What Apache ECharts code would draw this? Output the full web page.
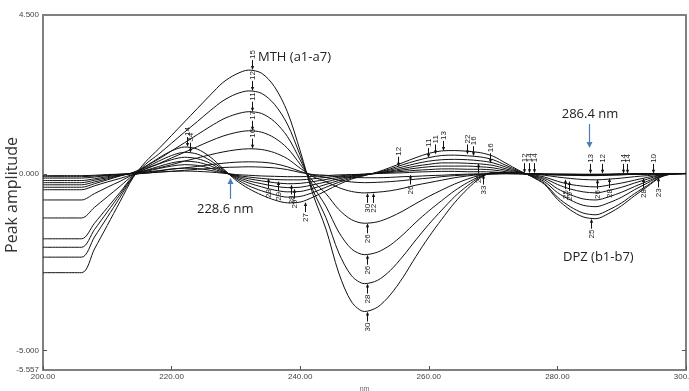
<!DOCTYPE html>
<html><head><meta charset="utf-8">
<script src="https://cdn.jsdelivr.net/npm/echarts@6/dist/echarts.min.js"></script>
<style>html,body{margin:0;padding:0;background:#fff}#c{width:689px;height:391px}</style>
</head><body><div id="c"></div>
<script>
// wavelength grid (nm)
const wavelengths = [200,206,208,210,212,214,216,218,220,222,224,226,228,230,232,234,236,238,240,242,244,246,248,250,252,254,256,258,260,262,264,266,268,270,272,274,276,278,280,282,284,286,288,290,292,294,296,298,300];

// MTH ratio-derivative curves (a1-a7)
const mthA1 = [-0.45,-0.45,-0.34,-0.23,-0.13,-0.02,0.02,0.05,0.07,0.10,0.13,0.15,0.18,0.19,0.20,0.19,0.17,0.12,0.04,-0.02,-0.04,-0.08,-0.10,-0.11,-0.11,-0.10,-0.08,-0.07,-0.05,-0.04,-0.02,-0.01,0.00,0.00,0.00,0.00,0.00,-0.01,-0.01,-0.01,-0.01,-0.01,-0.01,0.00,0.00,0.00,0.00,0.00,0.00];
const mthA2 = [-0.74,-0.74,-0.56,-0.38,-0.21,-0.03,0.04,0.08,0.13,0.17,0.21,0.26,0.30,0.33,0.34,0.33,0.29,0.20,0.07,-0.04,-0.10,-0.18,-0.23,-0.25,-0.24,-0.22,-0.19,-0.15,-0.12,-0.08,-0.05,-0.03,-0.01,0.00,0.01,0.00,0.00,-0.01,-0.01,-0.01,-0.02,-0.02,-0.01,-0.01,0.00,0.00,0.00,0.00,0.00];
const mthA3 = [-1.25,-1.25,-0.95,-0.65,-0.35,-0.05,0.09,0.17,0.26,0.36,0.45,0.54,0.62,0.68,0.71,0.69,0.60,0.43,0.16,-0.08,-0.22,-0.39,-0.50,-0.54,-0.52,-0.48,-0.41,-0.32,-0.25,-0.18,-0.11,-0.06,-0.02,0.00,0.01,0.01,0.00,-0.01,-0.01,-0.02,-0.02,-0.02,-0.02,-0.01,-0.01,0.00,0.00,0.00,0.01];
const mthA4 = [-1.84,-1.84,-1.40,-0.96,-0.52,-0.07,0.15,0.29,0.45,0.61,0.77,0.93,1.07,1.17,1.22,1.18,1.02,0.73,0.27,-0.21,-0.56,-1.01,-1.30,-1.40,-1.36,-1.23,-1.05,-0.84,-0.64,-0.46,-0.29,-0.15,-0.04,0.01,0.02,0.01,0.00,-0.01,-0.02,-0.02,-0.03,-0.03,-0.02,-0.01,-0.01,0.00,0.00,0.01,0.01];
const mthA5 = [-2.08,-2.08,-1.58,-1.08,-0.58,-0.08,0.21,0.42,0.65,0.88,1.11,1.34,1.55,1.69,1.76,1.71,1.48,1.06,0.39,-0.34,-0.92,-1.65,-2.13,-2.29,-2.22,-2.02,-1.72,-1.37,-1.05,-0.76,-0.48,-0.25,-0.07,0.02,0.02,0.01,0.00,-0.01,-0.02,-0.03,-0.03,-0.03,-0.02,-0.02,-0.01,0.00,0.00,0.01,0.01];
const mthA6 = [-2.36,-2.36,-1.79,-1.23,-0.66,-0.09,0.28,0.56,0.87,1.18,1.48,1.79,2.07,2.26,2.35,2.28,1.97,1.41,0.52,-0.47,-1.24,-2.24,-2.89,-3.11,-3.02,-2.74,-2.33,-1.87,-1.43,-1.03,-0.65,-0.34,-0.09,0.03,0.03,0.02,0.00,-0.02,-0.03,-0.03,-0.04,-0.04,-0.03,-0.02,-0.01,0.00,0.01,0.01,0.01];
const mthA7 = [-2.80,-2.80,-2.13,-1.46,-0.78,-0.11,0.35,0.71,1.09,1.47,1.85,2.23,2.59,2.82,2.94,2.85,2.47,1.76,0.65,-0.59,-1.56,-2.81,-3.63,-3.90,-3.78,-3.43,-2.93,-2.34,-1.79,-1.29,-0.82,-0.43,-0.12,0.04,0.03,0.02,0.00,-0.02,-0.03,-0.04,-0.05,-0.05,-0.04,-0.03,-0.01,0.00,0.01,0.01,0.01];

// DPZ ratio-derivative curves (b1-b7)
const dpzB1 = [-0.05,-0.05,-0.04,-0.02,-0.01,0.00,0.02,0.05,0.07,0.08,0.07,0.05,0.02,-0.02,-0.04,-0.06,-0.07,-0.08,-0.08,-0.07,-0.05,-0.03,-0.02,-0.01,0.01,0.02,0.03,0.05,0.06,0.07,0.07,0.06,0.06,0.05,0.03,0.01,-0.01,-0.04,-0.09,-0.13,-0.16,-0.17,-0.15,-0.12,-0.08,-0.05,-0.01,0.00,0.01];
const dpzB2 = [-0.08,-0.08,-0.06,-0.04,-0.01,0.01,0.05,0.09,0.14,0.16,0.15,0.10,0.03,-0.04,-0.09,-0.13,-0.16,-0.17,-0.17,-0.14,-0.10,-0.06,-0.03,-0.01,0.01,0.04,0.07,0.10,0.12,0.14,0.14,0.13,0.13,0.11,0.06,0.02,-0.02,-0.09,-0.21,-0.30,-0.35,-0.37,-0.32,-0.26,-0.18,-0.10,-0.03,0.00,0.01];
const dpzB3 = [-0.12,-0.12,-0.09,-0.05,-0.02,0.01,0.07,0.15,0.22,0.26,0.24,0.16,0.05,-0.06,-0.14,-0.20,-0.25,-0.28,-0.27,-0.22,-0.16,-0.10,-0.05,-0.02,0.02,0.06,0.11,0.16,0.20,0.22,0.22,0.22,0.20,0.17,0.10,0.03,-0.04,-0.13,-0.30,-0.43,-0.51,-0.54,-0.47,-0.38,-0.26,-0.15,-0.04,0.00,0.01];
const dpzB4 = [-0.19,-0.19,-0.14,-0.08,-0.03,0.02,0.10,0.21,0.31,0.36,0.33,0.23,0.07,-0.08,-0.20,-0.28,-0.35,-0.39,-0.38,-0.31,-0.23,-0.14,-0.07,-0.02,0.02,0.08,0.15,0.22,0.27,0.31,0.31,0.30,0.28,0.24,0.14,0.05,-0.05,-0.17,-0.42,-0.59,-0.71,-0.74,-0.65,-0.52,-0.36,-0.21,-0.06,0.00,0.01];
const dpzB5 = [-0.25,-0.25,-0.18,-0.11,-0.04,0.02,0.14,0.28,0.40,0.47,0.43,0.30,0.09,-0.11,-0.26,-0.37,-0.46,-0.51,-0.50,-0.41,-0.30,-0.19,-0.09,-0.03,0.03,0.11,0.20,0.29,0.36,0.40,0.41,0.40,0.37,0.31,0.19,0.06,-0.06,-0.22,-0.53,-0.74,-0.89,-0.93,-0.82,-0.66,-0.45,-0.26,-0.07,0.00,0.01];
const dpzB6 = [-0.31,-0.31,-0.23,-0.14,-0.05,0.03,0.18,0.36,0.52,0.61,0.56,0.38,0.12,-0.14,-0.34,-0.48,-0.59,-0.66,-0.64,-0.53,-0.38,-0.24,-0.12,-0.04,0.04,0.14,0.26,0.37,0.46,0.52,0.53,0.51,0.48,0.40,0.24,0.08,-0.07,-0.27,-0.66,-0.93,-1.11,-1.16,-1.02,-0.82,-0.56,-0.33,-0.09,0.00,0.01];
const dpzB7 = [-0.38,-0.38,-0.28,-0.17,-0.06,0.04,0.22,0.45,0.65,0.76,0.70,0.48,0.15,-0.18,-0.42,-0.60,-0.74,-0.82,-0.80,-0.66,-0.48,-0.30,-0.15,-0.05,0.05,0.18,0.32,0.46,0.58,0.65,0.66,0.64,0.60,0.50,0.30,0.10,-0.08,-0.30,-0.72,-1.02,-1.22,-1.27,-1.12,-0.90,-0.62,-0.36,-0.10,0.00,0.01];

// axis tick labels
const xTickLabels = [200,220,240,260,280,300];
const yTickLabels = [-5.557,-5,0,4.5];

// peak-pick markers (wavelength, amplitude, text, 1 = above / -1 = below)
const peakLabelX    = [232.5,232.5,232.5,232.5,232.5,222.4,222.8,235.0,236.6,238.6,239.0,240.7,250.4,251.3,250.4,250.4,250.4,250.4,255.2,259.8,261.0,262.2,266.0,266.8,269.5,257.0,268.4,267.6,274.8,275.6,276.4,285.0,287.0,290.2,290.8,294.9,281.2,281.8,286.2,288.0,293.3,295.6,285.2];
const peakLabelY    = [2.94,2.35,1.76,1.22,0.71,0.76,0.60,-0.12,-0.20,-0.30,-0.42,-0.80,-0.54,-0.54,-1.40,-2.29,-3.11,-3.90,0.20,0.45,0.55,0.65,0.55,0.50,0.30,-0.02,-0.02,0.30,0.02,0.02,0.02,0.00,0.00,0.00,0.00,0.00,-0.15,-0.20,-0.15,-0.12,-0.12,-0.10,-1.27];
const peakLabelText = ['15','12','11','17','16','14','34','28','29','28','29','27','30','22','26','26','28','30','12','11','11','13','22','16','16','26','33','25','12','14','14','13','12','14','14','10','25','29','26','28','28','23','25'];
const peakLabelDir  = [1,1,1,1,1,1,1,-1,-1,-1,-1,-1,-1,-1,-1,-1,-1,-1,1,1,1,1,1,1,1,-1,-1,-1,1,1,1,1,1,1,1,1,-1,-1,-1,-1,-1,-1,-1];

const curves = [mthA1,mthA2,mthA3,mthA4,mthA5,mthA6,mthA7,dpzB1,dpzB2,dpzB3,dpzB4,dpzB5,dpzB6,dpzB7];
const curveNames = ['a1','a2','a3','a4','a5','a6','a7','b1','b2','b3','b4','b5','b6','b7'];

const chart = echarts.init(document.getElementById('c'), null, {renderer:'canvas'});
const axisGray = '#808080';
const lineSeries = curves.map((arr, k) => ({
  name: curveNames[k], type:'line', xAxisIndex:0, yAxisIndex:0,
  data: wavelengths.map((w,i)=>[w, arr[i]]),
  showSymbol:false, smooth:0.3, silent:true,
  lineStyle:{color:'#111', width:1}, z:2
}));

const labelSeries = {
  type:'custom', xAxisIndex:0, yAxisIndex:0, silent:true, z:5, clip:false,
  data: peakLabelX.map((x,i)=>[x, peakLabelY[i], peakLabelDir[i]]),
  renderItem: function(params, api){
    const i = params.dataIndex;
    const p = api.coord([api.value(0), api.value(1)]);
    const d = api.value(2);
    const x = Math.round(p[0]) + 0.5, y = p[1];
    const s = d > 0 ? -1 : 1;
    return {type:'group', children:[
      {type:'line', shape:{x1:x, y1:y + s*3, x2:x, y2:y + s*10}, style:{stroke:'#111', lineWidth:1}},
      {type:'polygon', shape:{points:[[x-1.6, y + s*4],[x+1.6, y + s*4],[x, y]]}, style:{fill:'#111'}},
      {type:'text', x:x, y:y + s*11, rotation:Math.PI/2,
        style:{text:peakLabelText[i], align: d > 0 ? 'left' : 'right', verticalAlign:'middle',
          font:'8px "Liberation Sans", Arial, sans-serif', fill:'#222'}}
    ]};
  }
};

const textFont = '13px "Open Sans", sans-serif';
const blue = '#4a7ebb';

chart.setOption({
  animation:false,
  backgroundColor:'#fff',
  grid:{left:43, right:3, top:15, bottom:21, show:false, containLabel:false, outerBoundsMode:'none'},
  xAxis:[{
    type:'value', min:200, max:300, interval:20, position:'bottom',
    axisLine:{show:true, onZero:false, lineStyle:{color:axisGray, width:2}},
    axisTick:{show:true, inside:true, length:4, lineStyle:{color:'#555'}},
    axisLabel:{formatter:v=>v.toFixed(2), fontSize:8, color:'#444', margin:3, fontFamily:'"Liberation Sans", Arial'},
    splitLine:{show:false},
    name:'nm', nameLocation:'middle', nameGap:16, nameTextStyle:{fontSize:7, color:'#666'}
  },{
    type:'value', min:200, max:300, position:'top',
    axisLine:{show:true, onZero:false, lineStyle:{color:axisGray, width:2}},
    axisTick:{show:false}, axisLabel:{show:false}, splitLine:{show:false}
  }],
  yAxis:[{
    type:'value', min:-5.557, max:4.5, position:'left',
    axisLine:{show:true, onZero:false, lineStyle:{color:axisGray, width:2}},
    axisTick:{show:true, inside:true, length:4, customValues:[-5,0], lineStyle:{color:'#555'}},
    axisLabel:{customValues:yTickLabels, formatter:v=>Number(v).toFixed(3), fontSize:8, color:'#444', margin:4, fontFamily:'"Liberation Sans", Arial'},
    splitLine:{show:false}
  },{
    type:'value', min:-5.557, max:4.5, position:'right',
    axisLine:{show:true, onZero:false, lineStyle:{color:axisGray, width:2}},
    axisTick:{show:true, inside:true, length:4, customValues:[-5], lineStyle:{color:'#555'}},
    axisLabel:{show:false}, splitLine:{show:false}
  }],
  series: lineSeries.concat([labelSeries]),
  graphic:[
    {type:'text', x:12, y:195, rotation:Math.PI/2, style:{text:'Peak amplitude', align:'center', verticalAlign:'middle', font:'16px "Open Sans", sans-serif', fill:'#333'}},
    {type:'text', x:258, y:57, style:{text:'MTH (a1-a7)', align:'left', verticalAlign:'middle', font:textFont, fill:'#222'}},
    {type:'text', x:590, y:114, style:{text:'286.4 nm', align:'center', verticalAlign:'middle', font:textFont, fill:'#222'}},
    {type:'line', shape:{x1:589.5, y1:124, x2:589.5, y2:143}, style:{stroke:blue, lineWidth:1.2}},
    {type:'polygon', shape:{points:[[586.5,142],[592.5,142],[589.5,148]]}, style:{fill:blue}},
    {type:'text', x:197, y:209, style:{text:'228.6 nm', align:'left', verticalAlign:'middle', font:textFont, fill:'#222'}},
    {type:'line', shape:{x1:230.5, y1:199, x2:230.5, y2:183}, style:{stroke:blue, lineWidth:1.2}},
    {type:'polygon', shape:{points:[[227.5,184],[233.5,184],[230.5,178]]}, style:{fill:blue}},
    {type:'text', x:563, y:257, style:{text:'DPZ (b1-b7)', align:'left', verticalAlign:'middle', font:textFont, fill:'#222'}}
  ]
});
</script>
</body></html>
